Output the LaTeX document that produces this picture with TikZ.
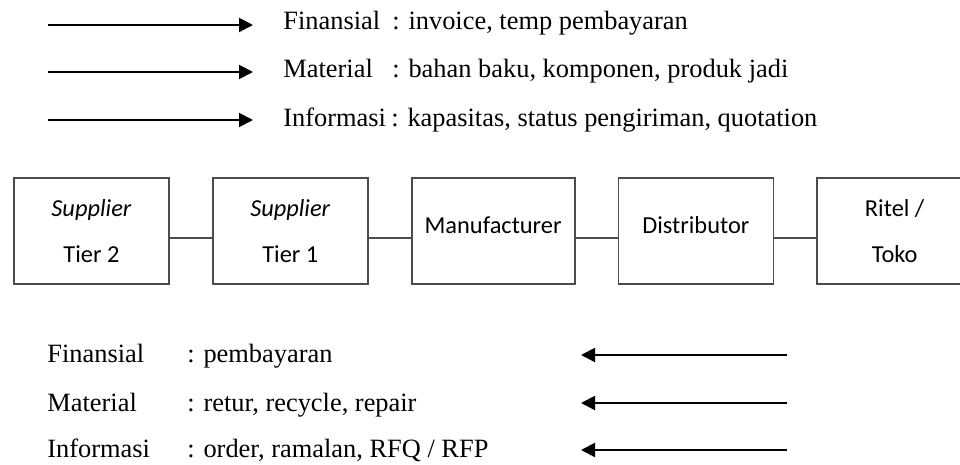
\documentclass[tikz,border=0pt]{standalone}
\usepackage{fontspec}
\setmainfont{Liberation Serif}
\newfontfamily\carlito{Carlito}
\usetikzlibrary{positioning,arrows.meta}

\begin{document}
\begin{tikzpicture}[x=0.5pt, y=-0.5pt, node distance = 21pt,
  box/.style={rectangle, draw=black!70, line width=0.9pt, minimum width=77.5pt,
    minimum height=53pt, inner sep=0pt, align=center,
    font=\carlito\fontsize{12.2}{23}\selectfont},
  link/.style={draw=black!70, line width=0.9pt},
  flow/.style={line width=1pt, -{Triangle[length=7pt,width=7pt]}},
  legend/.style={anchor=base west, inner sep=0pt, font=\fontsize{13.2}{15}\selectfont}]

  \path[use as bounding box] (0,0) rectangle (960,465);
  \clip (0,0) rectangle (960,465);

  % forward flows
  \coordinate (fs) at (48,25);  \coordinate (fe) at (253,25);
  \coordinate (ms) at (48,72);  \coordinate (me) at (253,72);
  \coordinate (is) at (48,120); \coordinate (ie) at (253,120);

  \draw[flow] (fs)--(fe);
  \draw[flow] (ms)--(me);
  \draw[flow] (is)--(ie);

  \node[legend] at (283,30) (finTop) {\makebox[54.5pt][l]{Finansial}: invoice, temp pembayaran};
  \node[legend] at (283,78) (matTop) {\makebox[54.5pt][l]{Material}: bahan baku, komponen, produk jadi};
  \node[legend] at (283,127) (infTop) {\makebox[54pt][l]{Informasi}: kapasitas, status pengiriman, quotation};

  % chain
  \node[box] at (91.5,231) (tier2) {\textit{Supplier}\\Tier 2};
  \node[box, right = of tier2] (tier1) {\textit{Supplier}\\Tier 1};
  \node[box, right = of tier1, minimum width=81.5pt] (manu) {\raisebox{6pt}{Manufacturer}};
  \node[box, right = of manu] (dist) {\raisebox{6pt}{Distributor}};
  \node[box, right = of dist] (ritel) {Ritel /\\Toko};

  \draw[link] ([yshift=-3.5pt]tier2.east)--([yshift=-3.5pt]tier1.west);
  \draw[link] ([yshift=-3.5pt]tier1.east)--([yshift=-3.5pt]manu.west);
  \draw[link] ([yshift=-3.5pt]manu.east)--([yshift=-3.5pt]dist.west);
  \draw[link] ([yshift=-3.5pt]dist.east)--([yshift=-3.5pt]ritel.west);

  % backward flows
  \node[legend] at (47,363) (finBot) {\makebox[70pt][l]{Finansial}: pembayaran};
  \node[legend] at (47,411) (matBot) {\makebox[70pt][l]{Material}: retur, recycle, repair};
  \node[legend] at (47,458) (infBot) {\makebox[70pt][l]{Informasi}: order, ramalan, RFQ / RFP};

  \coordinate (fbs) at (787,355); \coordinate (fbe) at (581,355);
  \coordinate (mbs) at (787,403); \coordinate (mbe) at (581,403);
  \coordinate (ibs) at (787,450); \coordinate (ibe) at (581,450);

  \draw[flow] (fbs)--(fbe);
  \draw[flow] (mbs)--(mbe);
  \draw[flow] (ibs)--(ibe);

\end{tikzpicture}
\end{document}
